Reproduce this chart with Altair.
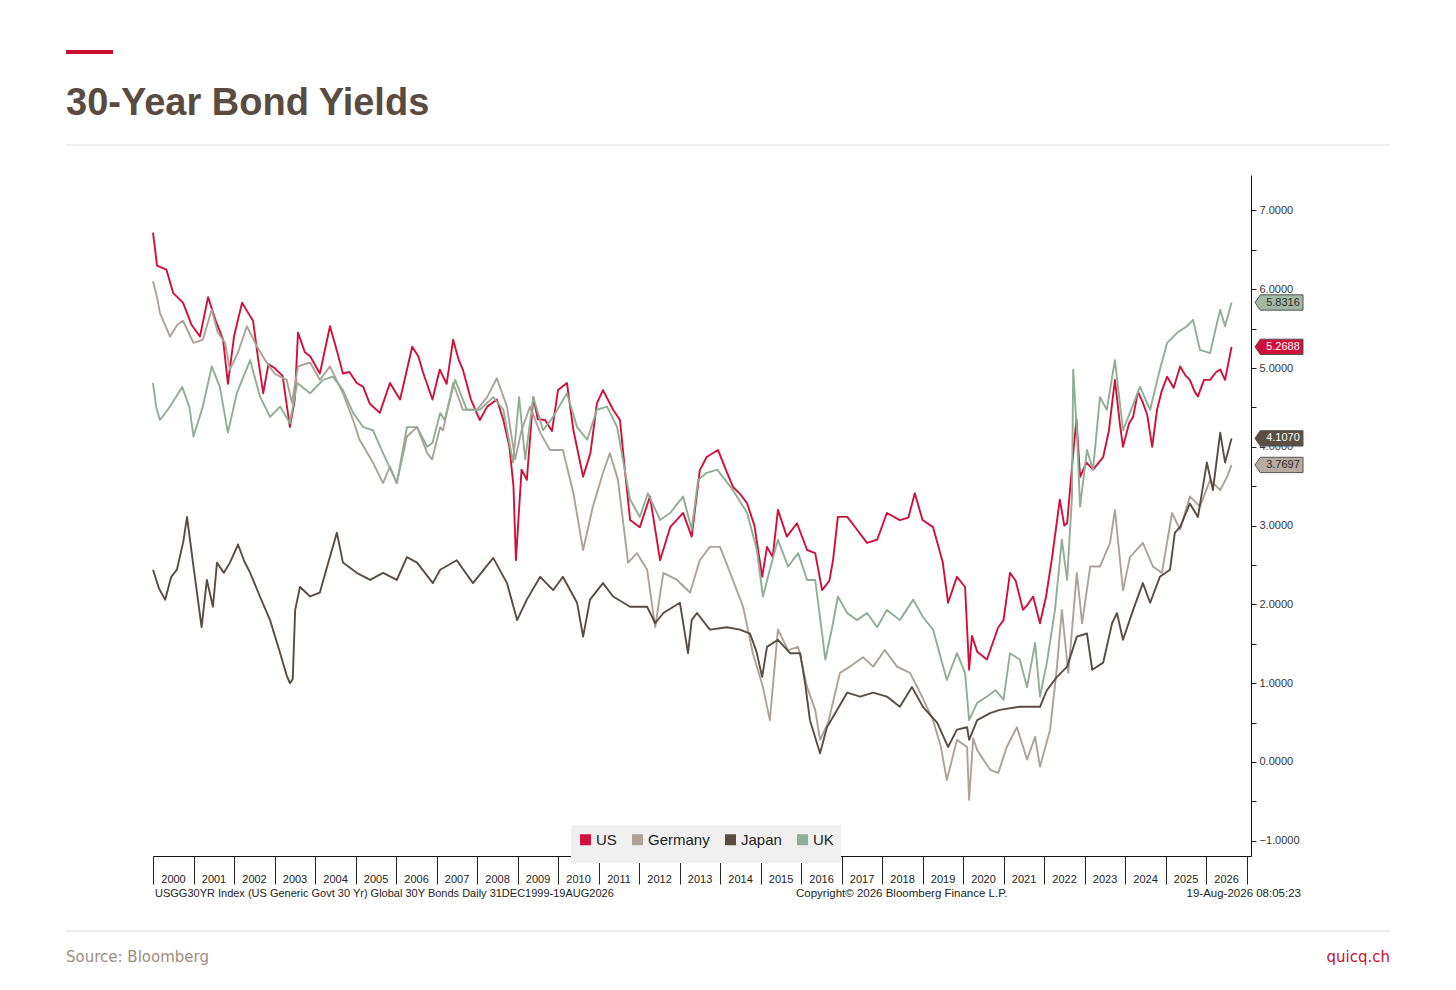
import altair as alt
import pandas as pd

SERIES = ["US", "Germany", "Japan", "UK"]
LINE_COLORS = ["#d0103a", "#aca297", "#594c40", "#8fae93"]
TAG_FILLS = ["#d0103a", "#b5aba1", "#5b4f44", "#a3b9a5"]
TAG_TEXT = ["#ffffff", "#2b2b2b", "#ffffff", "#2b2b2b"]

# fractional year, yield in %
US_T = [2000.00, 2000.10, 2000.33, 2000.50, 2000.74, 2000.95, 2001.16, 2001.36, 2001.55, 2001.73,
        2001.85, 2002.00, 2002.20, 2002.35, 2002.47, 2002.60, 2002.72, 2002.85, 2003.00, 2003.20,
        2003.38, 2003.50, 2003.58, 2003.75, 2003.88, 2004.12, 2004.37, 2004.55, 2004.69, 2004.85,
        2005.03, 2005.19, 2005.35, 2005.60, 2005.85, 2006.10, 2006.40, 2006.55, 2006.67, 2006.90,
        2007.08, 2007.25, 2007.41, 2007.55, 2007.65, 2007.85, 2008.07, 2008.25, 2008.49, 2008.65,
        2008.80, 2008.90, 2008.96, 2009.10, 2009.23, 2009.39, 2009.50, 2009.68, 2009.85, 2010.00,
        2010.22, 2010.38, 2010.62, 2010.80, 2010.96, 2011.11, 2011.36, 2011.53, 2011.65, 2011.78,
        2012.02, 2012.27, 2012.52, 2012.77, 2013.09, 2013.30, 2013.50, 2013.67, 2013.95, 2014.15,
        2014.32, 2014.50, 2014.67, 2014.85, 2015.04, 2015.16, 2015.30, 2015.43, 2015.65, 2015.90,
        2016.15, 2016.35, 2016.52, 2016.70, 2016.79, 2016.91, 2017.14, 2017.38, 2017.63, 2017.88,
        2018.12, 2018.44, 2018.65, 2018.81, 2019.00, 2019.26, 2019.50, 2019.63, 2019.75, 2019.85,
        2020.05, 2020.15, 2020.22, 2020.35, 2020.59, 2020.87, 2021.00, 2021.16, 2021.30, 2021.48,
        2021.60, 2021.73, 2021.90, 2022.05, 2022.20, 2022.39, 2022.50, 2022.57, 2022.70, 2022.80,
        2022.89, 2023.05, 2023.21, 2023.46, 2023.60, 2023.75, 2023.87, 2023.95, 2024.10, 2024.20,
        2024.32, 2024.44, 2024.55, 2024.67, 2024.79, 2024.90, 2025.04, 2025.20, 2025.36, 2025.50,
        2025.60, 2025.72, 2025.80, 2025.95, 2026.10, 2026.25, 2026.35, 2026.47, 2026.63]
US_Y = [6.72, 6.30, 6.25, 5.95, 5.83, 5.55, 5.40, 5.90, 5.60, 5.36,
        4.80, 5.40, 5.83, 5.70, 5.60, 5.10, 4.68, 5.05, 5.00, 4.90,
        4.25, 4.60, 5.45, 5.20, 5.15, 4.93, 5.53, 5.20, 4.93, 4.95,
        4.81, 4.76, 4.55, 4.43, 4.81, 4.60, 5.27, 5.15, 4.94, 4.60,
        4.98, 4.80, 5.36, 5.10, 4.98, 4.60, 4.34, 4.51, 4.60, 4.34,
        4.00, 3.50, 2.56, 3.71, 3.58, 4.63, 4.35, 4.34, 4.20, 4.72,
        4.81, 4.21, 3.62, 3.92, 4.55, 4.72, 4.47, 4.34, 3.71, 3.07,
        2.98, 3.37, 2.56, 2.98, 3.16, 2.86, 3.70, 3.87, 3.96, 3.70,
        3.49, 3.40, 3.28, 3.00, 2.35, 2.73, 2.60, 3.20, 2.86, 3.03,
        2.69, 2.65, 2.18, 2.30, 2.56, 3.11, 3.11, 2.95, 2.78, 2.82,
        3.16, 3.07, 3.10, 3.41, 3.07, 2.98, 2.53, 2.02, 2.20, 2.35,
        2.22, 1.17, 1.60, 1.40, 1.30, 1.71, 1.80, 2.40, 2.30, 1.93,
        2.00, 2.10, 1.76, 2.10, 2.60, 3.33, 3.00, 3.03, 3.80, 4.35,
        3.62, 3.80, 3.71, 3.87, 4.20, 4.85, 4.30, 4.00, 4.30, 4.38,
        4.70, 4.56, 4.40, 4.00, 4.47, 4.70, 4.89, 4.75, 5.02, 4.90,
        4.85, 4.70, 4.64, 4.85, 4.85, 4.95, 4.98, 4.85, 5.2688]

DE_T = [2000.00, 2000.10, 2000.17, 2000.42, 2000.60, 2000.74, 2001.00, 2001.23, 2001.45, 2001.60,
        2001.78, 2001.90, 2002.10, 2002.32, 2002.57, 2002.77, 2003.00, 2003.30, 2003.43, 2003.58,
        2003.88, 2004.12, 2004.37, 2004.69, 2004.94, 2005.10, 2005.43, 2005.68, 2005.85, 2006.02,
        2006.27, 2006.52, 2006.77, 2006.89, 2007.09, 2007.16, 2007.41, 2007.65, 2008.00, 2008.25,
        2008.49, 2008.74, 2008.94, 2009.10, 2009.31, 2009.56, 2009.80, 2010.12, 2010.38, 2010.62,
        2010.86, 2011.11, 2011.28, 2011.48, 2011.73, 2011.95, 2012.20, 2012.40, 2012.60, 2012.94,
        2013.26, 2013.50, 2013.75, 2014.00, 2014.25, 2014.57, 2014.81, 2015.06, 2015.23, 2015.43,
        2015.68, 2015.93, 2016.15, 2016.35, 2016.47, 2016.67, 2016.96, 2017.21, 2017.53, 2017.78,
        2018.07, 2018.37, 2018.69, 2018.94, 2019.26, 2019.45, 2019.60, 2019.85, 2020.10, 2020.15,
        2020.25, 2020.35, 2020.67, 2020.87, 2021.08, 2021.33, 2021.58, 2021.78, 2021.90, 2022.15,
        2022.32, 2022.44, 2022.60, 2022.81, 2022.94, 2023.14, 2023.38, 2023.63, 2023.75, 2023.95,
        2024.12, 2024.44, 2024.69, 2024.91, 2025.16, 2025.36, 2025.60, 2025.85, 2026.10, 2026.35,
        2026.52, 2026.63]
DE_Y = [6.10, 5.90, 5.70, 5.40, 5.55, 5.60, 5.32, 5.36, 5.74, 5.45,
        5.32, 4.98, 5.20, 5.53, 5.27, 5.10, 4.93, 4.85, 4.56, 5.02,
        5.07, 4.85, 5.02, 4.68, 4.34, 4.09, 3.80, 3.54, 3.75, 3.54,
        4.13, 4.25, 3.92, 3.84, 4.25, 4.21, 4.81, 4.47, 4.47, 4.63,
        4.87, 4.51, 3.84, 4.21, 4.51, 4.18, 3.96, 3.96, 3.41, 2.69,
        3.24, 3.67, 3.92, 3.58, 2.53, 2.65, 2.44, 1.71, 2.40, 2.31,
        2.15, 2.56, 2.73, 2.73, 2.40, 1.97, 1.38, 0.95, 0.53, 1.68,
        1.42, 1.46, 0.95, 0.66, 0.28, 0.50, 1.13, 1.21, 1.33, 1.21,
        1.42, 1.21, 1.13, 0.88, 0.53, 0.20, -0.23, 0.28, 0.19, -0.48,
        0.30, 0.15, -0.10, -0.14, 0.19, 0.44, 0.03, 0.32, -0.06, 0.41,
        1.21, 1.93, 1.13, 2.40, 1.76, 2.48, 2.48, 2.78, 3.20, 2.18,
        2.60, 2.78, 2.48, 2.40, 3.16, 2.95, 3.37, 3.24, 3.58, 3.45,
        3.62, 3.7697]

JP_T = [2000.00, 2000.15, 2000.30, 2000.45, 2000.59, 2000.75, 2000.84, 2001.00, 2001.20, 2001.33,
        2001.48, 2001.58, 2001.75, 2001.90, 2002.10, 2002.25, 2002.40, 2002.64, 2002.89, 2003.14,
        2003.30, 2003.38, 2003.45, 2003.51, 2003.63, 2003.88, 2004.12, 2004.30, 2004.54, 2004.69,
        2005.03, 2005.36, 2005.68, 2006.02, 2006.27, 2006.52, 2006.91, 2007.09, 2007.50, 2007.90,
        2008.40, 2008.74, 2008.99, 2009.23, 2009.56, 2009.88, 2010.12, 2010.47, 2010.62, 2010.79,
        2011.11, 2011.36, 2011.78, 2012.20, 2012.40, 2012.60, 2013.01, 2013.21, 2013.30, 2013.43,
        2013.75, 2014.17, 2014.49, 2014.74, 2014.90, 2015.04, 2015.16, 2015.43, 2015.73, 2015.98,
        2016.10, 2016.22, 2016.47, 2016.64, 2016.89, 2017.14, 2017.46, 2017.78, 2018.12, 2018.44,
        2018.74, 2019.01, 2019.36, 2019.63, 2019.85, 2020.10, 2020.15, 2020.35, 2020.67, 2020.91,
        2021.40, 2021.90, 2022.07, 2022.32, 2022.57, 2022.81, 2023.06, 2023.19, 2023.46, 2023.68,
        2023.80, 2023.95, 2024.20, 2024.44, 2024.62, 2024.86, 2025.11, 2025.23, 2025.36, 2025.60,
        2025.80, 2026.02, 2026.17, 2026.35, 2026.47, 2026.63]
JP_Y = [2.44, 2.20, 2.06, 2.35, 2.44, 2.80, 3.11, 2.48, 1.71, 2.31,
        1.97, 2.53, 2.40, 2.53, 2.76, 2.55, 2.40, 2.10, 1.80, 1.38,
        1.10, 1.00, 1.05, 1.93, 2.22, 2.10, 2.15, 2.48, 2.91, 2.53,
        2.40, 2.31, 2.40, 2.31, 2.60, 2.53, 2.27, 2.44, 2.56, 2.27,
        2.59, 2.27, 1.80, 2.06, 2.35, 2.18, 2.35, 2.02, 1.59, 2.06,
        2.27, 2.10, 1.97, 1.97, 1.76, 1.89, 2.02, 1.38, 1.80, 1.89,
        1.68, 1.71, 1.68, 1.63, 1.40, 1.08, 1.46, 1.55, 1.38, 1.38,
        1.00, 0.53, 0.11, 0.44, 0.66, 0.88, 0.83, 0.88, 0.83, 0.70,
        0.95, 0.70, 0.50, 0.19, 0.41, 0.44, 0.28, 0.53, 0.62, 0.66,
        0.70, 0.70, 0.91, 1.08, 1.21, 1.59, 1.63, 1.17, 1.26, 1.76,
        1.89, 1.55, 1.93, 2.27, 2.02, 2.35, 2.44, 2.91, 2.98, 3.28,
        3.11, 3.80, 3.45, 4.18, 3.80, 4.1070]

UK_T = [2000.00, 2000.08, 2000.17, 2000.42, 2000.72, 2000.90, 2001.00, 2001.23, 2001.45, 2001.65,
        2001.85, 2002.07, 2002.40, 2002.64, 2002.89, 2003.14, 2003.38, 2003.56, 2003.88, 2004.20,
        2004.44, 2004.69, 2004.94, 2005.19, 2005.43, 2005.68, 2006.02, 2006.27, 2006.52, 2006.77,
        2006.90, 2007.09, 2007.20, 2007.46, 2007.75, 2008.07, 2008.40, 2008.65, 2008.89, 2009.04,
        2009.19, 2009.39, 2009.63, 2009.88, 2010.22, 2010.47, 2010.72, 2010.96, 2011.21, 2011.46,
        2011.60, 2011.78, 2012.02, 2012.22, 2012.52, 2012.77, 2013.09, 2013.30, 2013.46, 2013.67,
        2013.93, 2014.32, 2014.67, 2014.91, 2015.06, 2015.23, 2015.43, 2015.68, 2015.93, 2016.15,
        2016.35, 2016.52, 2016.60, 2016.77, 2016.91, 2017.14, 2017.38, 2017.63, 2017.88, 2018.12,
        2018.44, 2018.77, 2019.01, 2019.26, 2019.60, 2019.85, 2020.05, 2020.15, 2020.35, 2020.59,
        2020.80, 2021.00, 2021.16, 2021.40, 2021.58, 2021.78, 2021.90, 2022.07, 2022.27, 2022.44,
        2022.57, 2022.69, 2022.72, 2022.81, 2022.89, 2023.06, 2023.21, 2023.38, 2023.55, 2023.75,
        2023.95, 2024.12, 2024.37, 2024.62, 2024.86, 2025.04, 2025.29, 2025.53, 2025.68, 2025.85,
        2026.10, 2026.27, 2026.35, 2026.47, 2026.63]
UK_Y = [4.81, 4.50, 4.34, 4.51, 4.76, 4.50, 4.13, 4.51, 5.02, 4.76,
        4.18, 4.68, 5.10, 4.64, 4.38, 4.51, 4.30, 4.81, 4.68, 4.85,
        4.89, 4.72, 4.43, 4.25, 4.21, 3.92, 3.54, 4.25, 4.25, 4.00,
        4.05, 4.43, 4.34, 4.85, 4.47, 4.47, 4.63, 4.47, 3.80, 4.63,
        3.84, 4.63, 4.21, 4.38, 4.68, 4.25, 4.09, 4.47, 4.51, 4.25,
        3.84, 3.33, 3.11, 3.41, 3.07, 3.16, 3.37, 2.95, 3.58, 3.67,
        3.71, 3.45, 3.16, 2.69, 2.10, 2.44, 2.82, 2.48, 2.65, 2.31,
        2.31, 1.63, 1.30, 1.71, 2.10, 1.89, 1.80, 1.89, 1.71, 1.93,
        1.80, 2.06, 1.84, 1.68, 1.04, 1.38, 1.13, 0.53, 0.75, 0.83,
        0.91, 0.79, 1.38, 1.30, 0.95, 1.51, 0.83, 1.26, 1.93, 2.82,
        2.31, 3.37, 4.98, 4.21, 3.24, 3.96, 3.71, 4.63, 4.47, 5.10,
        4.21, 4.43, 4.76, 4.47, 4.98, 5.32, 5.45, 5.53, 5.61, 5.23,
        5.19, 5.57, 5.74, 5.53, 5.8316]

Y_TICKS = [v / 2 for v in range(-2, 15)]
YEAR_TICKS = list(range(2000, 2028))

W, H = 1098, 681

series_data = [("US", US_T, US_Y), ("Germany", DE_T, DE_Y), ("Japan", JP_T, JP_Y), ("UK", UK_T, UK_Y)]
rows = []
for name, ts, ys in series_data:
    for t, y in zip(ts, ys):
        rows.append({"series": name, "t": t, "y": y})
df = pd.DataFrame(rows)

x_scale = alt.Scale(domain=[2000, 2027.11], nice=False, zero=False)
y_scale = alt.Scale(domain=[-1.194, 7.45], nice=False, zero=False)

lines = (
    alt.Chart(df)
    .mark_line(strokeWidth=1.9, strokeJoin="round")
    .encode(
        x=alt.X(
            "t:Q",
            scale=x_scale,
            title=None,
            axis=alt.Axis(
                values=YEAR_TICKS,
                labelExpr="datum.value < 2027 ? format(datum.value, 'd') : ''",
                labelOffset=20,
                labelAlign="center",
                labelBaseline="top",
                labelPadding=-11,
                tickSize=28,
                tickColor="#222",
                domainColor="#111",
                labelFont="Liberation Sans",
                labelFontSize=11,
                labelColor="#222",
                labelFlush=False,
                labelOverlap=False,
                grid=False,
            ),
        ),
        y=alt.Y(
            "y:Q",
            scale=y_scale,
            title=None,
            axis=alt.Axis(
                orient="right",
                values=Y_TICKS,
                labelExpr="datum.value % 1 == 0 ? format(datum.value, '.4f') : ''",
                tickSize=5,
                tickColor="#222",
                domainColor="#111",
                labelFont="Liberation Sans",
                labelFontSize=11,
                labelColor="#333",
                labelPadding=3,
                grid=False,
            ),
        ),
        color=alt.Color(
            "series:N",
            scale=alt.Scale(domain=SERIES, range=LINE_COLORS),
            legend=alt.Legend(
                orient="none",
                legendX=418,
                legendY=650,
                direction="horizontal",
                columns=4,
                title=None,
                fillColor="#f0f0f0",
                padding=7,
                symbolType="square",
                symbolSize=16,
                symbolStrokeWidth=7,
                labelFont="Liberation Sans",
                labelFontSize=15,
                labelColor="#222",
                columnPadding=4,
                labelOffset=3,
            ),
        ),
        detail="series:N",
        order="t:Q",
    )
)

# value tags on the right axis
tag_layers = []
for i, (name, ts, ys) in enumerate(series_data):
    tag_df = pd.DataFrame({"y": [ys[-1]], "label": [f"{ys[-1]:.4f}"]})
    tag_layers.append(
        alt.Chart(tag_df)
        .mark_point(
            shape="M-1,0L-0.78,-0.32L1,-0.32L1,0.32L-0.78,0.32Z",
            size=2304,
            filled=True,
            fill=TAG_FILLS[i],
            stroke="#555",
            strokeWidth=1,
            opacity=1,
        )
        .encode(x=alt.value(1126), y=alt.Y("y:Q", scale=y_scale))
    )
    tag_layers.append(
        alt.Chart(tag_df)
        .mark_text(font="Liberation Sans", fontSize=11, align="center", baseline="middle", color=TAG_TEXT[i])
        .encode(x=alt.value(1130), y=alt.Y("y:Q", scale=y_scale), text="label:N")
    )

one = pd.DataFrame({"k": [0]})


def text_at(label, x, y, **kw):
    return (
        alt.Chart(pd.DataFrame({"label": [label]}))
        .mark_text(**kw)
        .encode(x=alt.value(x), y=alt.value(y), text="label:N")
    )


def hrule(x1, x2, y, color, width):
    return (
        alt.Chart(one)
        .mark_rule(color=color, strokeWidth=width)
        .encode(x=alt.value(x1), x2=alt.value(x2), y=alt.value(y))
    )


decor = [
    hrule(-87, -40, -123, "#c8102e", 4),
    hrule(-87, 1237, -30, "#dddddd", 1),
    hrule(-87, 1237, 756, "#dddddd", 1),
    text_at("30-Year Bond Yields", -87, -60, font="Liberation Sans", fontSize=38, fontWeight="bold",
            color="#594b3f", align="left", baseline="alphabetic"),
    text_at("USGG30YR Index (US Generic Govt 30 Yr) Global 30Y Bonds Daily 31DEC1999-19AUG2026", 2, 719,
            font="Liberation Sans", fontSize=11, color="#222", align="left", baseline="middle"),
    text_at("Copyright\u00a9 2026 Bloomberg Finance L.P.", 643, 719,
            font="Liberation Sans", fontSize=11.5, color="#222", align="left", baseline="middle"),
    text_at("19-Aug-2026 08:05:23", 1148, 719,
            font="Liberation Sans", fontSize=11.5, color="#222", align="right", baseline="middle"),
    text_at("Source: Bloomberg", -87, 782, font="DejaVu Sans", fontSize=15, color="#9b8d82",
            align="left", baseline="middle"),
    text_at("quicq.ch", 1237, 782, font="DejaVu Sans", fontSize=15, color="#c8102e",
            align="right", baseline="middle"),
]

chart = (
    alt.layer(lines, *tag_layers, *decor)
    .properties(
        width=W,
        height=H,
        padding={"left": 145, "top": 167, "right": 190, "bottom": 120},
        autosize=alt.AutoSizeParams(type="none"),
        background="white",
    )
    .configure_view(stroke="transparent", strokeWidth=0)
)

chart.save("out.html", embed_options={"renderer": "svg", "actions": False})
